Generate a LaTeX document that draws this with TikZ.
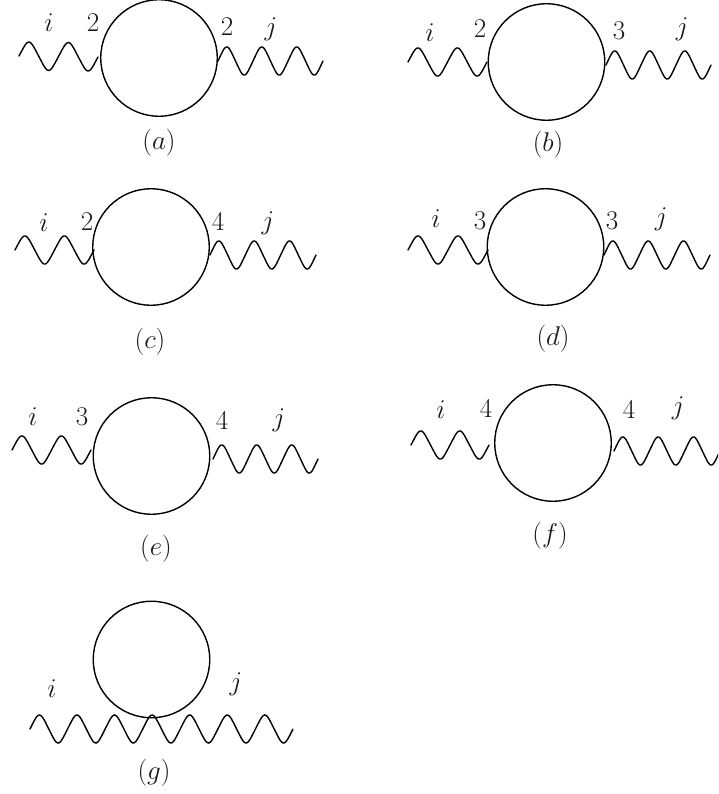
\documentclass[tikz,border=0pt]{standalone}
\usetikzlibrary{calc}
\tikzset{
  loopc/.style={circle,draw,line width=1.4pt,minimum size=116.5pt,inner sep=0pt,outer sep=0pt},
  wavel/.style={line width=1.4pt,line cap=round},
  lab/.style={inner sep=0pt,text=black!90,scale=1.09,font=\fontsize{24.88}{30}\selectfont},
}
\newcommand\wavy[3]{\draw[wavel] let \p1=(#1),\p2=(#2) in
  plot[variable=\t,domain=0:1,samples=160]
  ({\x1+\t*(\x2-\x1)},{\y1+\t*(\y2-\y1)+13.5pt*(sin(360*#3*\t)-0.04*sin(1080*#3*\t))});}
\begin{document}
\begin{tikzpicture}[x=1pt,y=-1pt]
\useasboundingbox (0,0) rectangle (718,794);
\clip (0,0) rectangle (718,785);
% (a)
\node[loopc] (a) at (159,58) {};
\coordinate (a1) at (19,56); \coordinate (a2) at (98,57);
\coordinate (a3) at (218,61); \coordinate (a4) at (323,61);
\wavy{a1}{a2}{2}
\wavy{a3}{a4}{3}
\node[lab] (ai) at (49,23) {$i$};
\node[lab] (an) at (93,23) {$2$};
\node[lab] (am) at (227,27) {$2$};
\node[lab] (aj) at (271,29) {$j$};
\node[lab] (ac) at (159,143) {$(a)$};
% (b)
\node[loopc] (b) at (546.5,62) {};
\coordinate (b1) at (408,62); \coordinate (b2) at (487,62);
\coordinate (b3) at (606,65); \coordinate (b4) at (711,65);
\wavy{b1}{b2}{2}
\wavy{b3}{b4}{3}
\node[lab] (bi) at (430,33) {$i$};
\node[lab] (bn) at (480,29) {$2$};
\node[lab] (bm) at (619,31) {$3$};
\node[lab] (bj) at (682,29) {$j$};
\node[lab] (bc) at (548,145) {$(b)$};
% (c)
\node[loopc] (c) at (151,247) {};
\coordinate (c1) at (15,250); \coordinate (c2) at (94,250);
\coordinate (c3) at (210,255); \coordinate (c4) at (316,255);
\wavy{c1}{c2}{2}
\wavy{c3}{c4}{3}
\node[lab] (ci) at (44,223) {$i$};
\node[lab] (cn) at (87,222) {$2$};
\node[lab] (cm) at (218,222) {$4$};
\node[lab] (cj) at (268,223) {$j$};
\node[lab] (cc) at (150,342) {$(c)$};
% (d)
\node[loopc] (d) at (545.5,247) {};
\coordinate (d1) at (408,250); \coordinate (d2) at (488,250);
\coordinate (d3) at (604,255); \coordinate (d4) at (710,255);
\wavy{d1}{d2}{2}
\wavy{d3}{d4}{3}
\node[lab] (di) at (436,219) {$i$};
\node[lab] (dn) at (480,221) {$3$};
\node[lab] (dm) at (612,221) {$3$};
\node[lab] (dj) at (661,219) {$j$};
\node[lab] (dc) at (553,339) {$(d)$};
% (e)
\node[loopc] (e) at (151.5,456) {};
\coordinate (e1) at (12,450); \coordinate (e2) at (91,450);
\coordinate (e3) at (213,459); \coordinate (e4) at (318,459);
\wavy{e1}{e2}{2}
\wavy{e3}{e4}{3}
\node[lab] (ei) at (33,417) {$i$};
\node[lab] (en) at (82,417) {$3$};
\node[lab] (em) at (222,421) {$4$};
\node[lab] (ej) at (279,420) {$j$};
\node[lab] (ec) at (156,549) {$(e)$};
% (f)
\node[loopc] (f) at (553,443) {};
\coordinate (f1) at (411,445); \coordinate (f2) at (489,445);
\coordinate (f3) at (614,451); \coordinate (f4) at (720,451);
\wavy{f1}{f2}{2}
\wavy{f3}{f4}{3}
\node[lab] (fi) at (441,410) {$i$};
\node[lab] (fn) at (486,409) {$4$};
\node[lab] (fm) at (629,410) {$4$};
\node[lab] (fj) at (678,408) {$j$};
\node[lab] (fc) at (550,536) {$(f)$};
% (g)
\node[loopc] (g) at (151.5,659.5) {};
\coordinate (g1) at (30,729); \coordinate (g2) at (293,729);
\wavy{g1}{g2}{7}
\node[lab] (gi) at (52,689) {$i$};
\node[lab] (gj) at (236,684) {$j$};
\node[lab] (gc) at (154,773) {$(g)$};
\end{tikzpicture}
\end{document}
